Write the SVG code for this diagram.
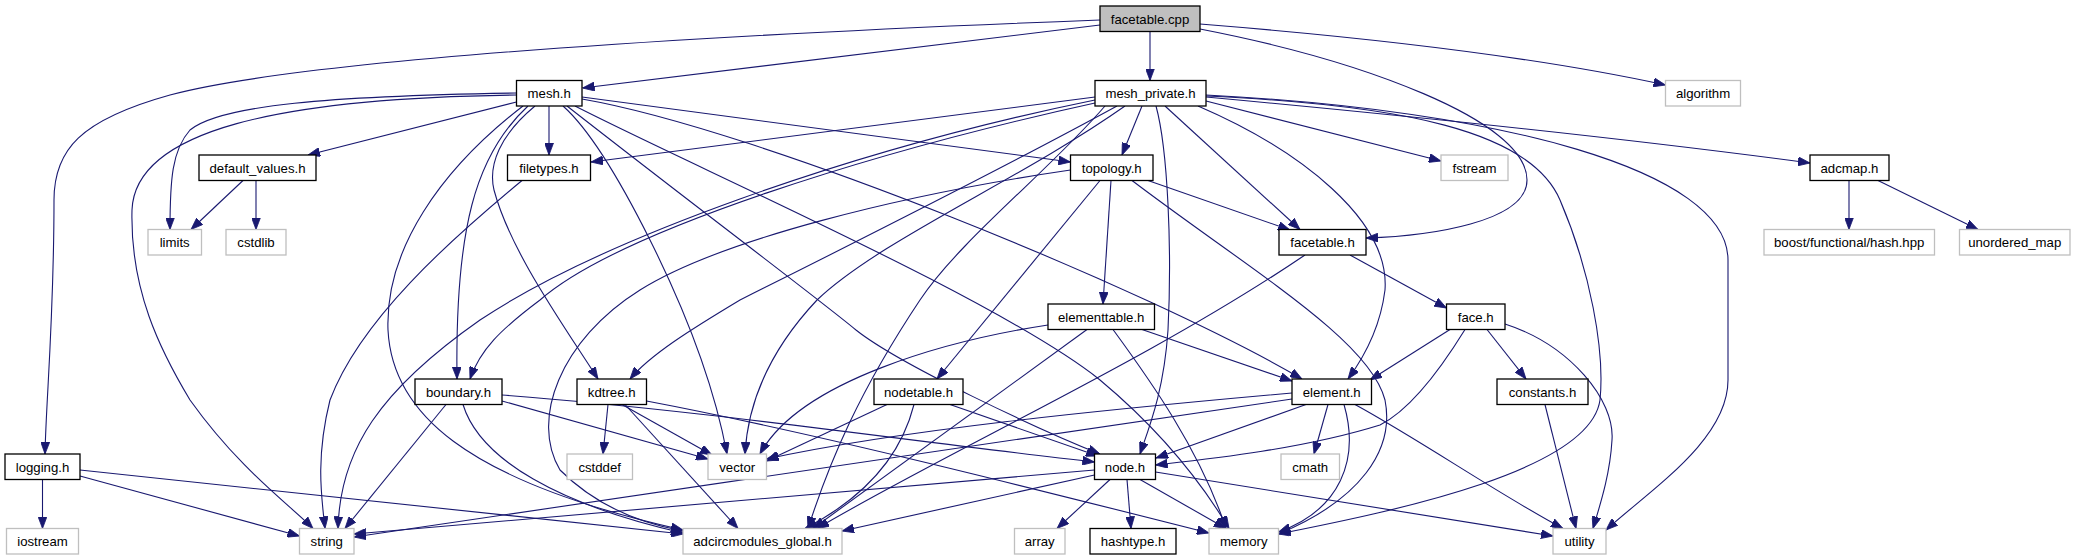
<svg xmlns="http://www.w3.org/2000/svg" width="2075" height="560" viewBox="0 0 2075 560">
<defs>
<marker id="a" markerWidth="12" markerHeight="9" refX="12" refY="4.5" orient="auto" markerUnits="userSpaceOnUse"><path d="M0,0 L12,4.5 L0,9 z" fill="#191970" stroke="#191970" stroke-width="0.8"/></marker>
<style>
.bk rect{fill:#fff;stroke:#000;stroke-width:1.3}
.gr rect{fill:#fff;stroke:#bfbfbf;stroke-width:1.3}
.rt rect{fill:#bfbfbf;stroke:#000;stroke-width:1.3}
text{font-family:"Liberation Sans",Arial,Helvetica,sans-serif;font-size:13.2px;text-anchor:middle;fill:#000}
#edges path{fill:none;stroke:#191970;stroke-width:1.1;marker-end:url(#a)}
</style>
</defs>
<rect width="2075" height="560" fill="#fff"/>
<g id="edges">
<path d="M1100,25 L582.5,88"/>
<path d="M1100,20 C700,35 300,60 170,95 C80,120 54,150 54,200 C54,320 46,400 45,454"/>
<path d="M1150,31.5 L1150,80.5"/>
<path d="M1200,24 C1400,40 1560,62 1665.5,85"/>
<path d="M1200,29 C1360,60 1527,120 1527,180 C1527,222 1430,236 1366,238"/>
<path d="M516.5,102 L308,155"/>
<path d="M549,106 L549,155"/>
<path d="M516.5,93 C330,96 220,105 190,130 C172,150 170,180 170,229.5"/>
<path d="M516.5,95 C280,98 135,130 132,210 C130,290 160,350 190,400 C240,470 290,505 313,528.5"/>
<path d="M528,106 C475,155 455,230 457,379"/>
<path d="M535,106 C500,135 488,165 494,190 C510,250 560,320 598,379"/>
<path d="M563,106 C590,130 620,180 650,240 C690,320 715,390 727,454"/>
<path d="M567,106 C700,210 820,300 856,330 C900,365 1040,430 1100,454"/>
<path d="M582,99 C760,130 1150,290 1302,379"/>
<path d="M582,97 L1070.5,162"/>
<path d="M575,106 C700,170 1000,300 1100,380 C1160,430 1200,480 1229,528.5"/>
<path d="M523,106 C440,170 385,250 388,330 C392,410 460,480 683,530"/>
<path d="M1142,106 L1122,155"/>
<path d="M1095,97 L591,162"/>
<path d="M1206,101 L1441,161"/>
<path d="M1206,97 C1400,115 1600,135 1810,163"/>
<path d="M1165,106 L1300,229.5"/>
<path d="M1198,106 C1300,150 1390,220 1385,290 C1380,330 1362,360 1348,379"/>
<path d="M1156,106 C1168,150 1172,250 1168,330 C1164,390 1150,425 1140,454"/>
<path d="M1206,95 C1500,110 1728,170 1728,260 L1728,380 C1728,440 1650,490 1606,530"/>
<path d="M1206,96 C1400,105 1530,130 1560,200 C1590,270 1605,350 1600,400 C1590,470 1400,510 1278.5,534"/>
<path d="M1095,100 C850,150 600,240 480,320 C380,390 340,450 338,528.5"/>
<path d="M1095,103 C880,150 620,230 540,300 C500,330 480,350 470,379"/>
<path d="M1117,106 C1000,170 800,270 740,300 C690,330 650,355 630,379"/>
<path d="M1125,106 C1020,180 880,240 817,300 C770,350 748,400 745,454"/>
<path d="M1105,106 C1050,170 960,240 920,300 C860,390 830,460 808,528.5"/>
<path d="M1111,180.5 L1103,304"/>
<path d="M1100,180.5 L937,379"/>
<path d="M1148,180.5 L1290,230"/>
<path d="M1132,180.5 C1250,270 1370,340 1385,400 C1395,450 1360,500 1278.5,534"/>
<path d="M1070.5,170 C900,195 720,240 640,290 C560,340 530,420 560,470 C600,510 650,525 683,531"/>
<path d="M1350,255 L1446.5,308"/>
<path d="M1305,255 C1150,360 950,450 817,528.5"/>
<path d="M1142,329.5 L1292,381"/>
<path d="M1048,325 C950,340 800,380 760,454"/>
<path d="M1113,329.5 C1150,380 1200,450 1226,528.5"/>
<path d="M1087,329.5 L813,528.5"/>
<path d="M1450,329.5 L1370,380"/>
<path d="M1465,329.5 C1440,370 1410,410 1380,425 C1300,450 1200,460 1155.5,465"/>
<path d="M1487,329.5 L1526,379"/>
<path d="M1505,324 C1570,345 1615,400 1612,440 C1610,475 1600,505 1593,528.5"/>
<path d="M1306,404.5 L1156,458"/>
<path d="M1292,393 C1100,410 900,430 766.5,459"/>
<path d="M1328,404.5 L1314,454"/>
<path d="M1344,404.5 C1360,460 1340,510 1278.5,532"/>
<path d="M1355,404.5 C1420,440 1500,495 1563,528.5"/>
<path d="M1292,399 L354,537"/>
<path d="M1545,404.5 L1576,528.5"/>
<path d="M1094.5,470 L354,534"/>
<path d="M1094.5,475 L842,531"/>
<path d="M1110,479.5 L1057,528.5"/>
<path d="M1127,479.5 L1131,528.5"/>
<path d="M1140,479.5 L1226,528.5"/>
<path d="M1155.5,472 L1553,536"/>
<path d="M950,404.5 L1098,456"/>
<path d="M887,404.5 L766.5,461"/>
<path d="M914,404.5 C900,460 860,500 805,528.5"/>
<path d="M608,404.5 L603,454"/>
<path d="M622,404.5 L712,455"/>
<path d="M646.5,401 C800,430 1000,480 1209,533"/>
<path d="M625,404.5 L738,528.5"/>
<path d="M502,395 C700,410 900,440 1094.5,462"/>
<path d="M502,401 L708,459"/>
<path d="M446,404.5 L345,528.5"/>
<path d="M463,404.5 C480,460 560,505 683,533"/>
<path d="M42.5,479.5 L42.5,528.5"/>
<path d="M80,476 L299.5,536"/>
<path d="M80,470 L683,534"/>
<path d="M522,180.5 C450,240 360,320 330,400 C315,460 322,500 325,528.5"/>
<path d="M243,180.5 L191,229.5"/>
<path d="M256,180.5 L256,229.5"/>
<path d="M1849,180.5 L1849,229.5"/>
<path d="M1878,180.5 L1978,229.5"/>
</g>
<g id="n_facetable_cpp" class="rt"><rect x="1100" y="6" width="100" height="25.5"/><text x="1150" y="23.5">facetable.cpp</text></g>
<g id="n_mesh_h" class="bk"><rect x="516.5" y="80.5" width="65.5" height="25.5"/><text x="549.2" y="98">mesh.h</text></g>
<g id="n_mesh_private_h" class="bk"><rect x="1095" y="80.5" width="111" height="25.5"/><text x="1150.5" y="98">mesh_private.h</text></g>
<g id="n_algorithm" class="gr"><rect x="1665.5" y="80.5" width="75" height="25.5"/><text x="1703" y="98">algorithm</text></g>
<g id="n_default_values_h" class="bk"><rect x="199" y="155" width="117" height="25.5"/><text x="257.5" y="172.5">default_values.h</text></g>
<g id="n_filetypes_h" class="bk"><rect x="507.5" y="155" width="83" height="25.5"/><text x="549" y="172.5">filetypes.h</text></g>
<g id="n_topology_h" class="bk"><rect x="1070.5" y="155" width="82.5" height="25.5"/><text x="1111.7" y="172.5">topology.h</text></g>
<g id="n_fstream" class="gr"><rect x="1441" y="155" width="67" height="25.5"/><text x="1474.5" y="172.5">fstream</text></g>
<g id="n_adcmap_h" class="bk"><rect x="1810" y="155" width="79" height="25.5"/><text x="1849.5" y="172.5">adcmap.h</text></g>
<g id="n_limits" class="gr"><rect x="148" y="229.5" width="53.5" height="25.5"/><text x="174.7" y="247">limits</text></g>
<g id="n_cstdlib" class="gr"><rect x="226" y="229.5" width="60" height="25.5"/><text x="256" y="247">cstdlib</text></g>
<g id="n_facetable_h" class="bk"><rect x="1279" y="229.5" width="87" height="25.5"/><text x="1322.5" y="247">facetable.h</text></g>
<g id="n_boost_hash" class="gr"><rect x="1764" y="229.5" width="170.5" height="25.5"/><text x="1849.2" y="247">boost/functional/hash.hpp</text></g>
<g id="n_unordered_map" class="gr"><rect x="1959.5" y="229.5" width="110.5" height="25.5"/><text x="2014.7" y="247">unordered_map</text></g>
<g id="n_elementtable_h" class="bk"><rect x="1048" y="304" width="106.5" height="25.5"/><text x="1101.2" y="321.5">elementtable.h</text></g>
<g id="n_face_h" class="bk"><rect x="1446.5" y="304" width="58.5" height="25.5"/><text x="1475.7" y="321.5">face.h</text></g>
<g id="n_boundary_h" class="bk"><rect x="415" y="379" width="87" height="25.5"/><text x="458.5" y="396.5">boundary.h</text></g>
<g id="n_kdtree_h" class="bk"><rect x="577" y="379" width="69.5" height="25.5"/><text x="611.7" y="396.5">kdtree.h</text></g>
<g id="n_nodetable_h" class="bk"><rect x="874" y="379" width="89" height="25.5"/><text x="918.5" y="396.5">nodetable.h</text></g>
<g id="n_element_h" class="bk"><rect x="1292" y="379" width="79.5" height="25.5"/><text x="1331.7" y="396.5">element.h</text></g>
<g id="n_constants_h" class="bk"><rect x="1497" y="379" width="91" height="25.5"/><text x="1542.5" y="396.5">constants.h</text></g>
<g id="n_logging_h" class="bk"><rect x="5" y="454" width="75" height="25.5"/><text x="42.5" y="471.5">logging.h</text></g>
<g id="n_cstddef" class="gr"><rect x="567" y="454" width="65.5" height="25.5"/><text x="599.7" y="471.5">cstddef</text></g>
<g id="n_vector" class="gr"><rect x="708" y="454" width="58.5" height="25.5"/><text x="737.2" y="471.5">vector</text></g>
<g id="n_node_h" class="bk"><rect x="1094.5" y="454" width="61" height="25.5"/><text x="1125" y="471.5">node.h</text></g>
<g id="n_cmath" class="gr"><rect x="1281" y="454" width="58.5" height="25.5"/><text x="1310.2" y="471.5">cmath</text></g>
<g id="n_iostream" class="gr"><rect x="6.5" y="528.5" width="72" height="25.5"/><text x="42.5" y="546">iostream</text></g>
<g id="n_string" class="gr"><rect x="299.5" y="528.5" width="54.5" height="25.5"/><text x="326.7" y="546">string</text></g>
<g id="n_adcircmodules_global_h" class="gr"><rect x="683" y="528.5" width="159" height="25.5"/><text x="762.5" y="546">adcircmodules_global.h</text></g>
<g id="n_array" class="gr"><rect x="1014.5" y="528.5" width="50.5" height="25.5"/><text x="1039.7" y="546">array</text></g>
<g id="n_hashtype_h" class="bk"><rect x="1090" y="528.5" width="86" height="25.5"/><text x="1133" y="546">hashtype.h</text></g>
<g id="n_memory" class="gr"><rect x="1209" y="528.5" width="69.5" height="25.5"/><text x="1243.7" y="546">memory</text></g>
<g id="n_utility" class="gr"><rect x="1553" y="528.5" width="53" height="25.5"/><text x="1579.5" y="546">utility</text></g>
</svg>
